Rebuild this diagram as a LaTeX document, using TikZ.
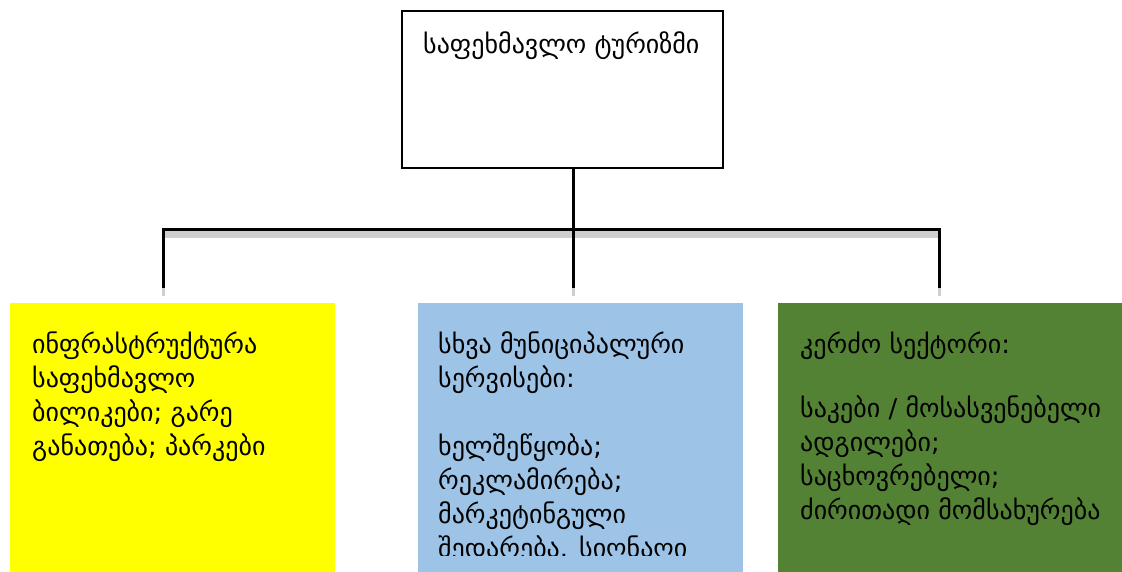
\documentclass[tikz,border=0pt]{standalone}
\usepackage{fontspec}
\setmainfont{DejaVu Sans}
\begin{document}
\begin{tikzpicture}[x=1pt,y=-1pt,
  boxfill/.style={anchor=north west, inner sep=0pt, minimum width=325pt, minimum height=280pt},
  txt/.style={anchor=base west, inner sep=0pt, align=left, font=\fontsize{26}{34}\selectfont},
  conn/.style={line width=3pt, line cap=butt},
  shade/.style={fill=black!19, draw=none}]
\useasboundingbox (0,0) rectangle (1122,571);
\definecolor{ylw}{HTML}{FFFF00}
\definecolor{blu}{HTML}{9DC3E6}
\definecolor{grn}{HTML}{548235}
% top box
\node[draw, line width=2pt, anchor=north west, inner sep=0pt, minimum width=321pt, minimum height=157pt] (top) at (401,10) {};
\node[txt] (toptxt) at (423,53) {საფეხმავლო ტურიზმი};
% coloured boxes
\node[boxfill, fill=ylw] (b1) at (10,303) {};
\node[boxfill, fill=blu] (b2) at (418,303) {};
\node[boxfill, fill=grn, minimum width=350pt] (b3) at (778,303) {};
% connector coordinates
\coordinate (tj) at (573,168);
\coordinate (bm) at (573,229);
\coordinate (bl) at (163.5,229);
\coordinate (br) at (939.5,229);
\coordinate (el) at (163.5,288);
\coordinate (em) at (573,288);
\coordinate (er) at (939.5,288);
% shadows
\fill[shade] (165,231) rectangle (938,238);
\fill[shade] (162,288) rectangle (165,296);
\fill[shade] (571.5,288) rectangle (574.5,296);
\fill[shade] (938,288) rectangle (941,296);
% connectors
\draw[conn] (tj) -- (bm);
\draw[conn] (el) -- (bl) -- (br) -- (er);
\draw[conn] (bm) -- (em);
% texts (multi-line nodes: base anchor is on the last line)
\node[txt] (t1) at (32,455) {ინფრასტრუქტურა\\საფეხმავლო\\ბილიკები; გარე\\განათება; პარკები};
\begin{scope}
\clip (418,303) rectangle (743,555);
\node[txt] (t2) at (438,557) {სხვა მუნიციპალური\\სერვისები:\\[34pt]ხელშეწყობა;\\რეკლამირება;\\მარკეტინგული\\შედარება. სიღნაღი};
\end{scope}
\node[txt] (t3) at (800,519) {კერძო სექტორი:\\[30pt]საკები / მოსასვენებელი\\ადგილები;\\საცხოვრებელი;\\ძირითადი მომსახურება};
\end{tikzpicture}
\end{document}
